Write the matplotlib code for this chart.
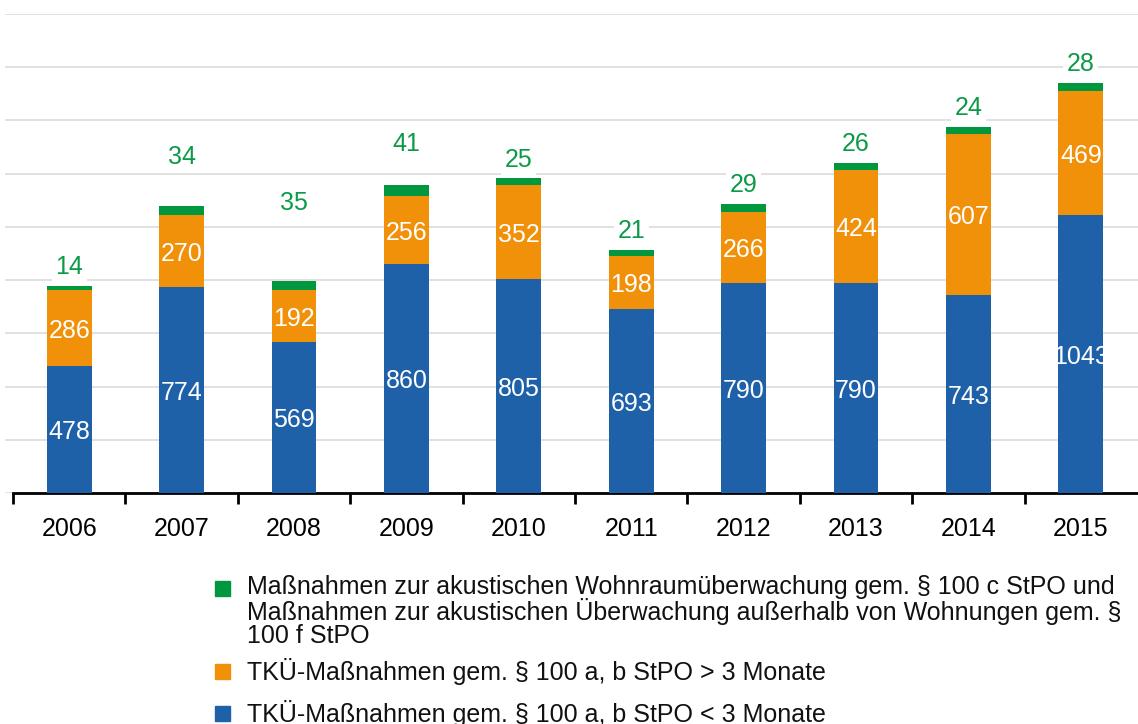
import matplotlib
matplotlib.use("Agg")
import matplotlib.pyplot as plt
from matplotlib.patches import Rectangle
import numpy as np

plt.rcParams['font.family'] = ['Liberation Sans', 'DejaVu Sans']

years = ["2006", "2007", "2008", "2009", "2010", "2011", "2012", "2013", "2014", "2015"]
tku_short = [478, 774, 569, 860, 805, 693, 790, 790, 743, 1043]
tku_long = [286, 270, 192, 256, 352, 198, 266, 424, 607, 469]
akustik = [14, 34, 35, 41, 25, 21, 29, 26, 24, 28]

legend_labels = [
    "Maßnahmen zur akustischen Wohnraumüberwachung gem. § 100 c StPO und\n"
    "Maßnahmen zur akustischen Überwachung außerhalb von Wohnungen gem. §\n"
    "100 f StPO",
    "TKÜ-Maßnahmen gem. § 100 a, b StPO > 3 Monate",
    "TKÜ-Maßnahmen gem. § 100 a, b StPO < 3 Monate",
]

# extra lift (points) of the green labels above bar tops
green_lift = [0, 22, 43, 16, 0, 0, 0, 0, 0, 0]

c_blue = "#1f61a9"
c_orange = "#f1910a"
c_green = "#00973f"
c_green_txt = "#0c9a48"

W, H = 1138, 724
fig = plt.figure(figsize=(W / 100, H / 100), dpi=100)
ax_left_px, ax_right_px = 5, 1138
base_px, top_px = 493, 14
ax = fig.add_axes([ax_left_px / W, (H - base_px) / H,
                   (ax_right_px - ax_left_px) / W, (base_px - top_px) / H])

x = np.arange(len(years))
ppu = 112.4
xl = -0.5 - 8 / ppu
ax.set_xlim(xl, xl + (ax_right_px - ax_left_px) / ppu)
ax.set_ylim(0, 1800)

bw = 0.4
b1 = ax.bar(x, tku_short, bw, color=c_blue, zorder=3)
b2 = ax.bar(x, tku_long, bw, bottom=tku_short, color=c_orange, zorder=3)
bottom3 = np.array(tku_short) + np.array(tku_long)
b3 = ax.bar(x, akustik, bw, bottom=bottom3, color=c_green, zorder=3)

fs = 18
for i in range(len(years)):
    t = ax.annotate(str(tku_short[i]), (x[i], tku_short[i] / 2), xytext=(0, -2),
                    textcoords='offset points', ha='center', va='center',
                    color='white', fontsize=fs, zorder=4)
    t.set_clip_path(b1.patches[i])
    t = ax.annotate(str(tku_long[i]), (x[i], tku_short[i] + tku_long[i] / 2),
                    xytext=(0, -2), textcoords='offset points', ha='center',
                    va='center', color='white', fontsize=fs, zorder=4)
    t.set_clip_path(b2.patches[i])
    top = bottom3[i] + akustik[i]
    ax.annotate(str(akustik[i]), (x[i], top), xytext=(0, 5 + green_lift[i]),
                textcoords='offset points', ha='center', va='bottom',
                color=c_green_txt, fontsize=fs, zorder=4,
                bbox=dict(boxstyle='square,pad=0.15', fc='white', ec='none'))

ax.set_yticks(np.arange(0, 1801, 200))
ax.yaxis.grid(True, color='#dedede', linewidth=1.3, zorder=0)
ax.set_axisbelow(True)
ax.tick_params(axis='y', left=False, labelleft=False)
for s in ['top', 'right', 'left']:
    ax.spines[s].set_visible(False)
ax.spines['bottom'].set_linewidth(2)
ax.spines['bottom'].set_color('black')
ax.spines['bottom'].set_bounds(-0.5, xl + (ax_right_px - ax_left_px) / ppu)

ax.set_xticks(x)
ax.set_xticklabels(years, fontsize=fs)
ax.tick_params(axis='x', which='major', length=0, pad=17)
ax.set_xticks(np.arange(-0.5, 9.5, 1), minor=True)
ax.tick_params(axis='x', which='minor', length=8, width=2, color='black', direction='out')

# legend
handles = [(c_green, 588), (c_orange, 671), (c_blue, 713)]
for (col, yc), lab in zip(handles, legend_labels):
    fig.patches.append(Rectangle((215 / W, (H - yc - 8) / H), 15 / W, 15 / H,
                                 transform=fig.transFigure, color=col))
    fig.text(247 / W, (H - yc + 13) / H, lab, ha='left', va='top', fontsize=fs,
             linespacing=0.96, color='#111111')

fig.savefig("out.png", dpi=100)
